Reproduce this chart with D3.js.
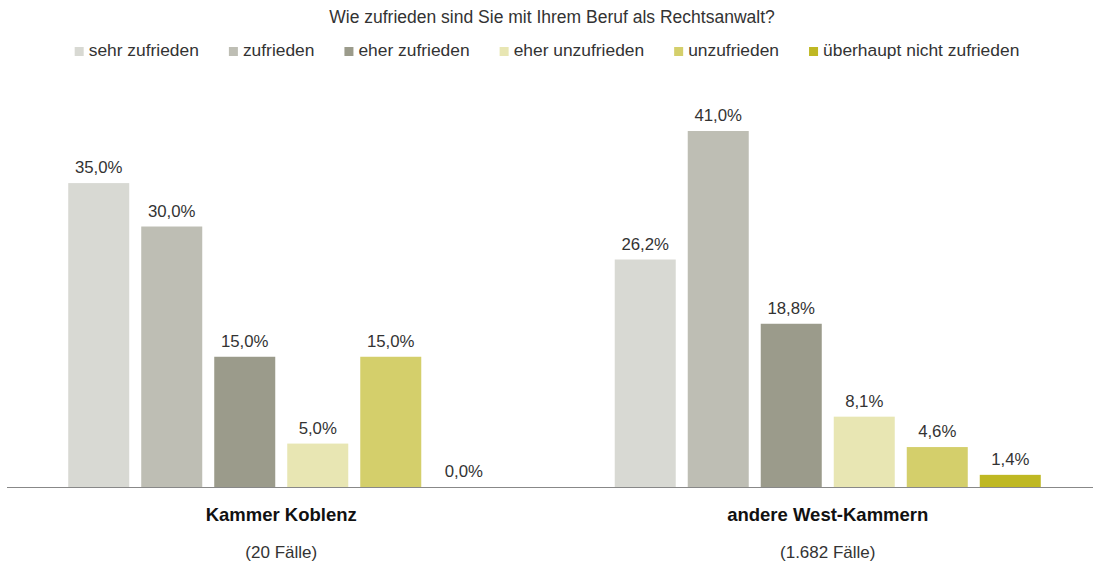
<!DOCTYPE html>
<html>
<head>
<meta charset="utf-8">
<script src="https://cdn.jsdelivr.net/npm/d3@7"></script>
<style>
    body { margin: 0; background: #fff; }
    svg text { font-family: "Liberation Sans", Arial, sans-serif; }
</style>
</head>
<body>
<div id="chart"></div>
<script>
// data
var title = "Wie zufrieden sind Sie mit Ihrem Beruf als Rechtsanwalt?";
var groups = ["Kammer Koblenz", "andere West-Kammern"];
var groupCases = ["(20 Fälle)", "(1.682 Fälle)"];
var categories = ["sehr zufrieden", "zufrieden", "eher zufrieden", "eher unzufrieden", "unzufrieden", "überhaupt nicht zufrieden"];
var koblenz = [35.0, 30.0, 15.0, 5.0, 15.0, 0.0];
var westKammern = [26.2, 41.0, 18.8, 8.1, 4.6, 1.4];
var colors = ["#d8d9d3", "#bebeb4", "#9b9b8b", "#e8e6b3", "#d4cf6b", "#bfb823"];

var values = [koblenz, westKammern];

var W = 1093, H = 567;
var baseY = 487;

var svg = d3.select("#chart").append("svg").attr("width", W).attr("height", H);

var x0 = d3.scaleBand().domain(groups).range([8, 1101]).padding(0);
var x1 = d3.scaleBand().domain(categories).range([0, x0.bandwidth()])
    .paddingInner(12 / 73).paddingOuter(0.825);
var y = d3.scaleLinear().domain([0, 41]).range([baseY, 131]);

var color = d3.scaleOrdinal().domain(categories).range(colors);

// title
svg.append("text")
    .attr("x", 552).attr("y", 23)
    .attr("text-anchor", "middle")
    .attr("font-size", 17.5)
    .attr("fill", "#333")
    .text(title);

// legend (flow layout, centered)
var legendG = svg.append("g");
var legend = legendG.selectAll("g")
    .data(categories).enter().append("g");
legend.append("rect")
    .attr("x", 0).attr("y", 47).attr("width", 9).attr("height", 9)
    .attr("fill", function (d) { return color(d); });
legend.append("text")
    .attr("x", 14).attr("y", 56)
    .attr("font-size", 17.4)
    .attr("fill", "#333")
    .text(function (d) { return d; });
var lx = 0;
legend.each(function () {
    var item = d3.select(this);
    item.attr("transform", "translate(" + lx + ",0)");
    lx += 14 + item.select("text").node().getComputedTextLength() + 30;
});
var legendW = lx - 30;
legendG.attr("transform", "translate(" + (547 - legendW / 2) + ",0)");

// bars
var g = svg.selectAll(".group")
    .data(groups).enter().append("g")
    .attr("class", "group")
    .attr("transform", function (d) { return "translate(" + x0(d) + ",0)"; });

var cells = g.selectAll(".bar")
    .data(function (d, gi) {
        return categories.map(function (c, i) { return { cat: c, value: values[gi][i] }; });
    })
    .enter();

cells.append("rect")
    .attr("class", "bar")
    .attr("x", function (d) { return x1(d.cat); })
    .attr("width", x1.bandwidth())
    .attr("y", function (d) { return y(d.value); })
    .attr("height", function (d) { return baseY - y(d.value); })
    .attr("fill", function (d) { return color(d.cat); });

cells.append("text")
    .attr("x", function (d) { return x1(d.cat) + x1.bandwidth() / 2; })
    .attr("y", function (d) { return y(d.value) - 10; })
    .attr("text-anchor", "middle")
    .attr("font-size", 16.8)
    .attr("fill", "#333")
    .text(function (d) { return d.value.toFixed(1).replace(".", ",") + "%"; });

// baseline
svg.append("line")
    .attr("x1", 7).attr("x2", W)
    .attr("y1", baseY + 0.5).attr("y2", baseY + 0.5)
    .attr("stroke", "#888").attr("stroke-width", 1);

// group labels
g.append("text")
    .attr("x", x0.bandwidth() / 2).attr("y", 521)
    .attr("text-anchor", "middle")
    .attr("font-size", 18.5).attr("font-weight", "bold")
    .attr("fill", "#111")
    .text(function (d) { return d; });

g.append("text")
    .attr("x", x0.bandwidth() / 2).attr("y", 558)
    .attr("text-anchor", "middle")
    .attr("font-size", 17)
    .attr("fill", "#333")
    .text(function (d, i) { return groupCases[i]; });
</script>
</body>
</html>
